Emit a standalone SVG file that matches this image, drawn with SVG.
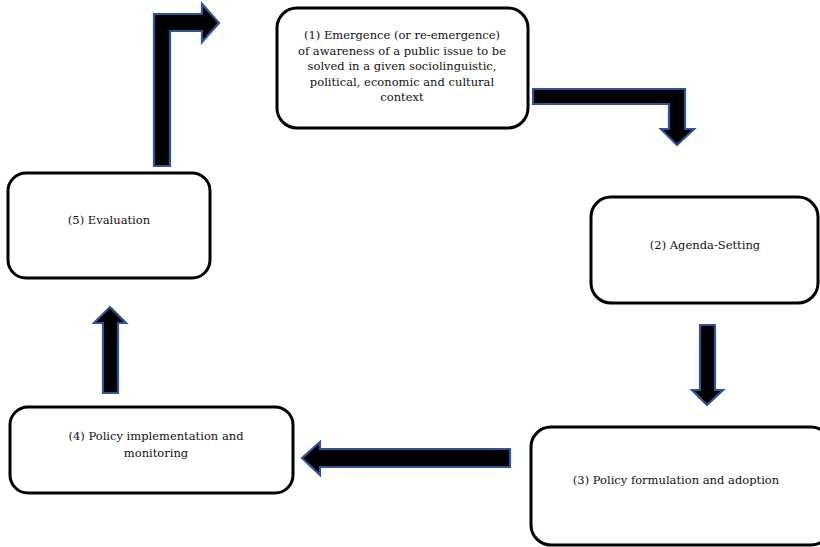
<svg xmlns="http://www.w3.org/2000/svg" width="820" height="547" viewBox="0 0 820 547">
<style>
.box{fill:#fff;stroke:#000;stroke-width:3}
.t{font-family:"DejaVu Serif","Liberation Serif",serif;font-size:11.5px;fill:#111;text-anchor:middle}
.arr{fill:#000;stroke:#2F5597;stroke-width:2.2;stroke-linejoin:miter}
</style>
<rect width="820" height="547" fill="#fff"/>
<g id="connectors">
<path class="arr" d="M154,166 L154,14 L202,14 L202,4 L219,23 L202,42 L202,31 L170,31 L170,166 Z"/>
<path class="arr" d="M533,89 L685,89 L685,129 L694,129 L677,145 L661,129 L669,129 L669,104 L533,104 Z"/>
<path class="arr" d="M700,325 L715,325 L715,390 L723,390 L707,405 L692,390 L700,390 Z"/>
<path class="arr" d="M510,449 L510,467 L320,467 L320,475 L302,458 L320,442 L320,449 Z"/>
<path class="arr" d="M103,393 L118,393 L118,323 L126,323 L110,307 L94,323 L103,323 Z"/>
</g>
<g id="node1">
<rect class="box" x="277" y="8" width="251" height="120" rx="20"/>
<text class="t" x="402" y="39">(1) Emergence (or re-emergence)</text>
<text class="t" x="402" y="55">of awareness of a public issue to be</text>
<text class="t" x="402" y="70">solved in a given sociolinguistic,</text>
<text class="t" x="402" y="86">political, economic and cultural</text>
<text class="t" x="402" y="101">context</text>
</g>
<g id="node2">
<rect class="box" x="591" y="197" width="227" height="106" rx="20"/>
<text class="t" x="705" y="249">(2) Agenda-Setting</text>
</g>
<g id="node3">
<rect class="box" x="531" y="427" width="300" height="118" rx="20"/>
<text class="t" x="676" y="484">(3) Policy formulation and adoption</text>
</g>
<g id="node4">
<rect class="box" x="10" y="407" width="283" height="86" rx="18"/>
<text class="t" x="156" y="440">(4) Policy implementation and</text>
<text class="t" x="156" y="457">monitoring</text>
</g>
<g id="node5">
<rect class="box" x="8" y="173" width="202" height="105" rx="18"/>
<text class="t" x="109" y="224">(5) Evaluation</text>
</g>
</svg>
